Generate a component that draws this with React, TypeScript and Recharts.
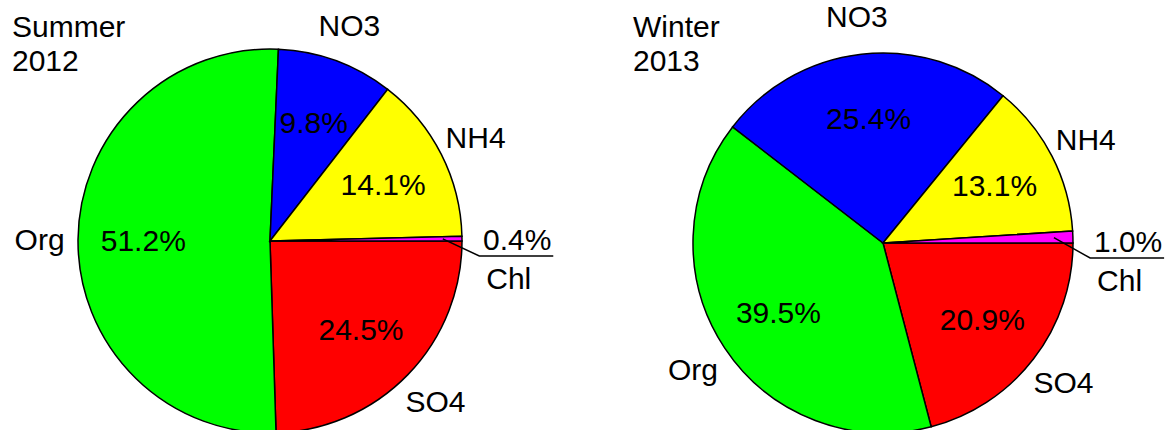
import React from 'react';
import { PieChart, Pie, Cell } from 'recharts';

// aerosol components, ordered clockwise starting at 3 o'clock
const components = ['SO4', 'Org', 'NO3', 'NH4', 'Chl'];
const summerValues = [24.5, 51.2, 9.8, 14.1, 0.4];
const winterValues = [20.9, 39.5, 25.4, 13.1, 1.0];
const colors = ['#ff0000', '#00ff00', '#0000ff', '#ffff00', '#ff00ff'];
const titles = [['Summer', '2012'], ['Winter', '2013']];

const FONT = '"Liberation Sans", Arial, sans-serif';
const RADIAN = Math.PI / 180;

const toData = (values: number[]) =>
  components.map((name, i) => ({ name, value: values[i] }));

const summerData = toData(summerValues);
const winterData = toData(winterValues);

const renderLabel = (props: any) => {
  const { cx, cy, midAngle, outerRadius, name, value } = props;
  const cos = Math.cos(-midAngle * RADIAN);
  const sin = Math.sin(-midAngle * RADIAN);
  const textStyle = { fontFamily: FONT, fontSize: 30, fill: '#000' };

  if (name === 'Chl') {
    // small slice: leader line out to an underlined value, name below
    const sx = cx + outerRadius * 0.9 * cos;
    const sy = cy + outerRadius * 0.9 * sin;
    const ex = cx + outerRadius * 1.09;
    const ey = cy + 15;
    return (
      <g>
        <polyline
          points={`${sx},${sy} ${ex},${ey} ${ex + 74},${ey}`}
          fill="none"
          stroke="#000"
          strokeWidth={1.5}
        />
        <text x={ex + 38} y={ey - 6} textAnchor="middle" style={textStyle}>
          {value.toFixed(1)}%
        </text>
        <text x={ex + 7} y={ey + 33} textAnchor="start" style={textStyle}>
          {name}
        </text>
      </g>
    );
  }

  const ir = outerRadius * 0.66;
  const or = outerRadius * 1.2;
  return (
    <g>
      <text
        x={cx + ir * cos}
        y={cy + ir * sin}
        dy="0.36em"
        textAnchor="middle"
        style={textStyle}
      >
        {value.toFixed(1)}%
      </text>
      <text
        x={cx + or * cos}
        y={cy + or * sin}
        dy="0.36em"
        textAnchor="middle"
        style={textStyle}
      >
        {name}
      </text>
    </g>
  );
};

const App = () => {
  return (
    <div style={{ position: 'absolute', left: 0, top: 0, width: 1169, height: 430, background: '#fff' }}>
      {titles.map((lines, i) => (
        <div
          key={lines[0]}
          style={{
            position: 'absolute',
            left: i === 0 ? 12 : 633,
            top: 10,
            fontFamily: FONT,
            fontSize: 30,
            lineHeight: '34px',
            color: '#000',
          }}
        >
          {lines[0]}
          <br />
          {lines[1]}
        </div>
      ))}
      <PieChart width={1169} height={430} margin={{ top: 0, right: 0, bottom: 0, left: 0 }}>
        <Pie
          data={summerData}
          dataKey="value"
          nameKey="name"
          cx={270}
          cy={241}
          outerRadius={192}
          startAngle={0}
          endAngle={-360}
          label={renderLabel}
          labelLine={false}
          isAnimationActive={false}
        >
          {summerData.map((d, i) => (
            <Cell key={d.name} fill={colors[i]} stroke="#000" strokeWidth={1.5} />
          ))}
        </Pie>
        <Pie
          data={winterData}
          dataKey="value"
          nameKey="name"
          cx={883}
          cy={243}
          outerRadius={190}
          startAngle={0}
          endAngle={-360}
          label={renderLabel}
          labelLine={false}
          isAnimationActive={false}
        >
          {winterData.map((d, i) => (
            <Cell key={d.name} fill={colors[i]} stroke="#000" strokeWidth={1.5} />
          ))}
        </Pie>
      </PieChart>
    </div>
  );
};

export default App;
